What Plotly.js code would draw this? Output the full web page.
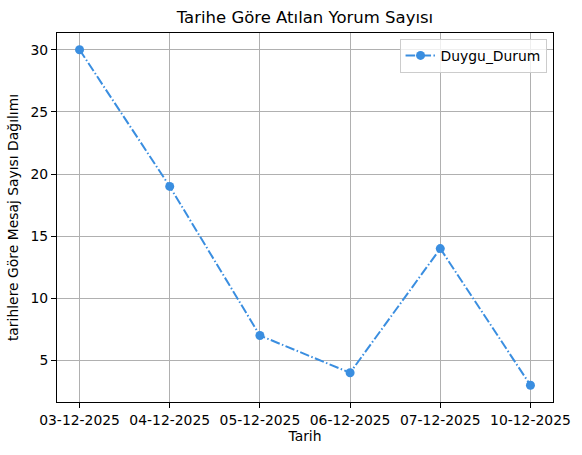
<!DOCTYPE html>
<html>
<head>
<meta charset="utf-8">
<script src="https://cdn.plot.ly/plotly-3.0.1.min.js"></script>
<style>html,body{margin:0;padding:0;background:#fff;}#chart{width:582px;height:455px;}</style>
</head>
<body>
<div id="chart"></div>
<script>
const dates = ["03-12-2025", "04-12-2025", "05-12-2025", "06-12-2025", "07-12-2025", "10-12-2025"];
const counts = [30, 19, 7, 4, 14, 3];
const yTicks = [5, 10, 15, 20, 25, 30];

const font = "DejaVu Sans, sans-serif";
const trace = {
  x: dates,
  y: counts,
  type: "scatter",
  mode: "lines+markers",
  name: "Duygu_Durum",
  line: {color: "#3a8ee0", width: 2, dash: "9.6px,2.4px,1.5px,2.4px"},
  marker: {color: "#3a8ee0", size: 9}
};
const layout = {
  width: 582, height: 455,
  margin: {l: 57, r: 29, t: 33, b: 53},
  paper_bgcolor: "#fff", plot_bgcolor: "#fff",
  font: {family: font, size: 13.9, color: "#000"},
  title: {text: "Tarihe Göre Atılan Yorum Sayısı", font: {family: font, size: 16.5, color: "#000"}, x: 0.524, xanchor: "center", y: 0.963, yanchor: "middle"},
  xaxis: {
    type: "category", range: [-0.25, 5.25],
    showgrid: true, gridcolor: "#b0b0b0", gridwidth: 1,
    showline: true, linecolor: "#000", linewidth: 1, mirror: true,
    ticks: "outside", ticklen: 5, tickcolor: "#000", tickwidth: 1,
    tickfont: {family: font, size: 13.9, color: "#000"},
    title: {text: "Tarih", font: {family: font, size: 13.9, color: "#000"}, standoff: 4},
    zeroline: false, automargin: false
  },
  yaxis: {
    range: [1.65, 31.35], tickvals: yTicks,
    showgrid: true, gridcolor: "#b0b0b0", gridwidth: 1,
    showline: true, linecolor: "#000", linewidth: 1, mirror: true,
    ticks: "outside", ticklen: 5, tickcolor: "#000", tickwidth: 1,
    tickfont: {family: font, size: 13.9, color: "#000"},
    title: {text: "tarihlere Göre Mesaj Sayısı Dağılımı", font: {family: font, size: 13.9, color: "#000"}, standoff: 8},
    zeroline: false, automargin: false
  },
  showlegend: true,
  legend: {
    x: 0.987, xanchor: "right", y: 0.984, yanchor: "top",
    bgcolor: "rgba(255,255,255,0.8)", bordercolor: "#cccccc", borderwidth: 1,
    font: {family: font, size: 13.9, color: "#000"}
  }
};
Plotly.newPlot("chart", [trace], layout, {displayModeBar: false, staticPlot: true});
</script>
</body>
</html>
